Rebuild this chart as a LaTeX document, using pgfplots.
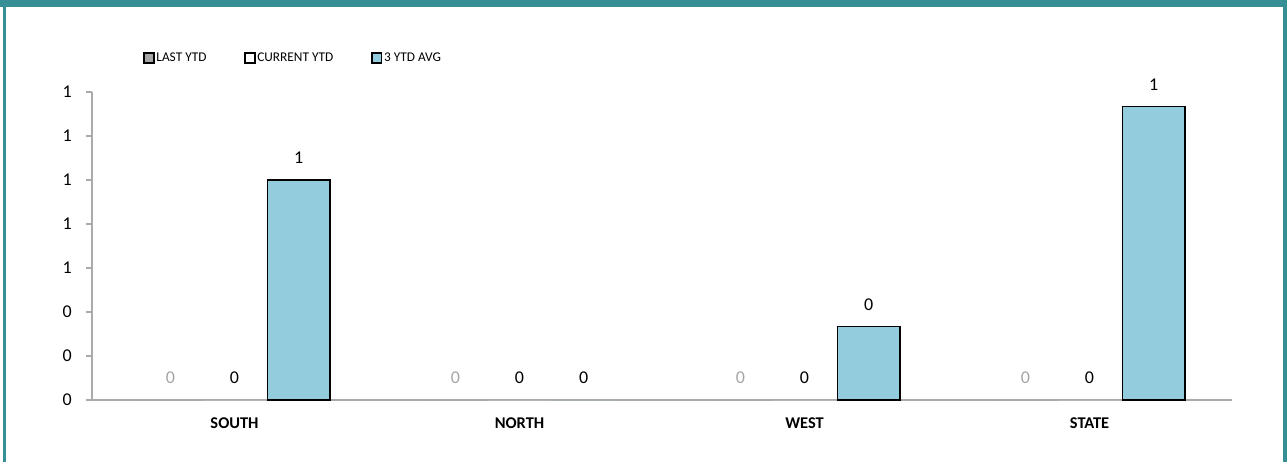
\documentclass[border=0pt]{standalone}
\usepackage{fontspec}
\setmainfont{Carlito}
\usepackage{pgfplots}
\pgfplotsset{compat=1.18}
\definecolor{frame}{RGB}{55,143,150}
\definecolor{avgblue}{RGB}{147,205,221}
\definecolor{lastgray}{RGB}{165,165,165}
\definecolor{axgray}{RGB}{170,170,170}
\begin{document}
\begin{tikzpicture}
\useasboundingbox (0,0) rectangle (965.25pt,346.5pt);
\begin{axis}[
  at={(69pt,46.5pt)}, anchor=south west,
  scale only axis, width=855pt, height=231pt,
  xmin=-0.5, xmax=3.5, ymin=0, ymax=1.4,
  axis x line=bottom, axis y line=left,
  axis line style={draw=axgray, line width=0.8pt, -},
  xtick={0,1,2,3}, xticklabels={SOUTH,NORTH,WEST,STATE},
  xticklabel style={font=\fontsize{12.3}{14}\selectfont\bfseries, anchor=center, inner sep=0pt, yshift=-12.75pt},
  x tick style={draw=none},
  ytick={0,0.2,0.4,0.6,0.8,1,1.2,1.4},
  yticklabels={0,0,0,1,1,1,1,1},
  yticklabel style={font=\fontsize{13.5}{15}\selectfont, anchor=east, inner sep=0pt, xshift=-10.5pt},
  y tick style={draw=axgray, line width=0.8pt},
  tick align=outside, major tick length=4.5pt,
  /pgf/number format/assume math mode=true,
  nodes near coords,
  nodes near coords style={font=\fontsize{13.5}{15}\selectfont, anchor=south, inner sep=0pt, yshift=11.8pt},
  point meta=explicit symbolic,
  legend image code/.code={\draw[#1] (0pt,-3.7pt) rectangle (7.4pt,3.7pt);},
  legend columns=3,
  legend style={at={(0.0447,1.110)}, anchor=west, draw=none, fill=none, inner sep=0pt,
    font=\fontsize{10}{11}\selectfont,
    nodes={inner xsep=1.2pt, inner ysep=0pt},
    /tikz/every even column/.append style={column sep=27pt}},
  clip=false,
]
\addlegendimage{fill=lastgray, draw=black, line width=1.3pt}
\addlegendentry{LAST YTD}
\addlegendimage{fill=white, draw=black, line width=1.3pt}
\addlegendentry{CURRENT YTD}
\addlegendimage{fill=avgblue, draw=black, line width=1.3pt}
\addlegendentry{3 YTD AVG}

% LAST YTD (all zero)
\addplot[forget plot, ybar, bar width=0.22, bar shift=0, fill=lastgray, draw=none,
  every node near coord/.append style={text=lastgray}]
  coordinates {(-0.225,0) [0] (0.775,0) [0] (1.775,0) [0] (2.775,0) [0]};
% CURRENT YTD (all zero)
\addplot[forget plot, ybar, bar width=0.22, bar shift=0, fill=white, draw=none,
  every node near coord/.append style={text=black}]
  coordinates {(0,0) [0] (1,0) [0] (2,0) [0] (3,0) [0]};
% 3 YTD AVG
\addplot[forget plot, ybar, bar width=0.22, bar shift=0, fill=avgblue, draw=black, line width=1.1pt,
  every node near coord/.append style={text=black}]
  coordinates {(0.225,1) [1] (2.225,0.3333) [0] (3.225,1.3333) [1]};
\addplot[forget plot, ybar, bar width=0.22, bar shift=0, fill=avgblue, draw=none,
  every node near coord/.append style={text=black}]
  coordinates {(1.225,0) [0]};
\end{axis}
\fill[frame] (0,341.25pt) rectangle (965.25pt,346.5pt);
\fill[frame] (2.25pt,0) rectangle (4.5pt,346.5pt);
\fill[frame] (962.5pt,0) rectangle (965.25pt,346.5pt);
\end{tikzpicture}
\end{document}
